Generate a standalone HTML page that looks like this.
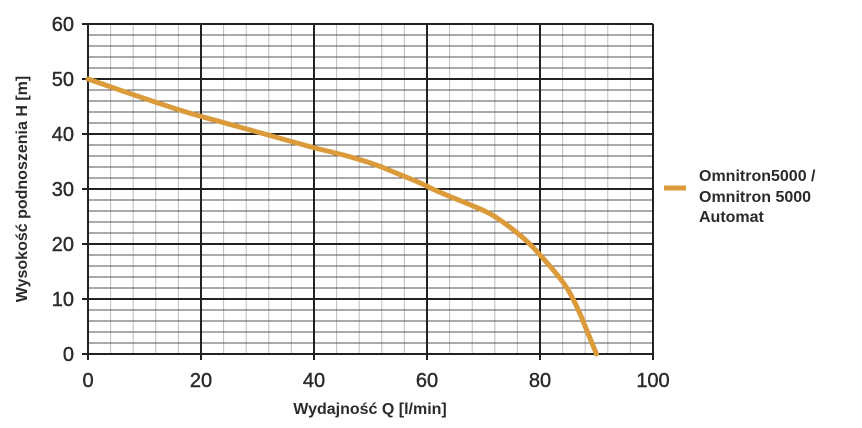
<!DOCTYPE html>
<html><head><meta charset="utf-8"><style>
body{margin:0;background:#fff;width:862px;height:423px;overflow:hidden}
text{font-family:"Liberation Sans",sans-serif;fill:#2b2b2b}
</style></head><body>
<svg width="862" height="423" xmlns="http://www.w3.org/2000/svg">
<path stroke="#bdbdbd" stroke-width="1" fill="none" d="M110.6,24V354M133.2,24V354M155.8,24V354M178.4,24V354M223.6,24V354M246.2,24V354M268.8,24V354M291.4,24V354M336.6,24V354M359.2,24V354M381.8,24V354M404.4,24V354M449.6,24V354M472.2,24V354M494.8,24V354M517.4,24V354M562.6,24V354M585.2,24V354M607.8,24V354M630.4,24V354"/>
<path stroke="#555" stroke-width="1" fill="none" d="M88,343H653M88,332H653M88,321H653M88,310H653M88,288H653M88,277H653M88,266H653M88,255H653M88,233H653M88,222H653M88,211H653M88,200H653M88,178H653M88,167H653M88,156H653M88,145H653M88,123H653M88,112H653M88,101H653M88,90H653M88,68H653M88,57H653M88,46H653M88,35H653"/>
<path stroke="#222" stroke-width="2" fill="none" d="M88,24V360M201,24V360M314,24V360M427,24V360M540,24V360M653,24V360M82,354H653M82,299H653M82,244H653M82,189H653M82,134H653M82,79H653M82,24H653"/>
<g font-size="20" text-anchor="middle" stroke="#2b2b2b" stroke-width="0.4">
<text x="88" y="387">0</text><text x="201" y="387">20</text><text x="314" y="387">40</text><text x="427" y="387">60</text><text x="540" y="387">80</text><text x="653" y="387">100</text>
</g>
<g font-size="20" text-anchor="end" stroke="#2b2b2b" stroke-width="0.4">
<text x="74" y="361">0</text><text x="74" y="306">10</text><text x="74" y="251">20</text><text x="74" y="196">30</text><text x="74" y="141">40</text><text x="74" y="86">50</text><text x="74" y="31">60</text>
</g>
<path d="M88,79C120,90 170,108 201,116.4C240,127 280,138 314,147.75C335,153 355,157 381.8,167C400,175 415,180 427,186.25C450,198 480,207 494.8,216.5C515,230 530,243 540,255C552,268 562,280 568.25,290C576,304 582,318 585.2,326.5L596.5,354" fill="none" stroke="#DB9B3A" stroke-width="5" stroke-linejoin="round" stroke-linecap="round"/>
<text x="370" y="414" font-size="16" font-weight="bold" text-anchor="middle">Wydajność Q [l/min]</text>
<text transform="translate(27,189) rotate(-90)" font-size="16" font-weight="bold" text-anchor="middle">Wysokość podnoszenia H [m]</text>
<line x1="664" y1="188" x2="686" y2="188" stroke="#DB9B3A" stroke-width="5"/>
<text x="699" y="181" font-size="16" font-weight="bold">Omnitron5000 /</text>
<text x="699" y="202" font-size="16" font-weight="bold">Omnitron 5000</text>
<text x="699" y="222" font-size="16" font-weight="bold">Automat</text>
</svg>
</body></html>
